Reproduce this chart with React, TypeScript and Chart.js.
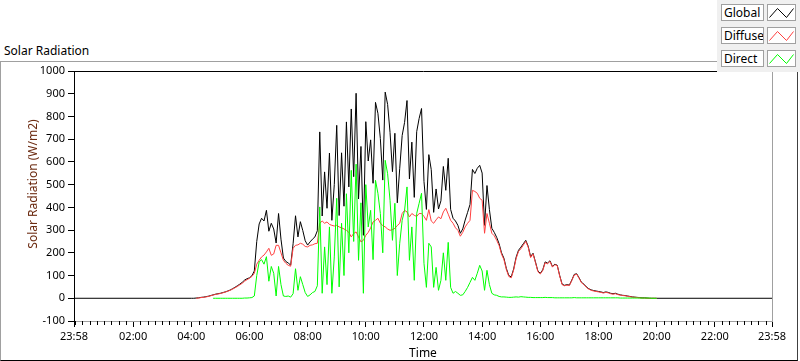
import React, { useEffect, useRef } from "react";
import { Chart, registerables } from "chart.js";

Chart.register(...registerables);

// Sampling grid: 5-minute samples 04:00..20:00 plus the day ends (23:58 previous day / 23:58)
const gridTimes: number[] = Array.from({ length: 193 }, (_, i) => 240 + 5 * i);
const times: number[] = [-2, ...gridTimes, 1438];

const globalVals: (number | null)[] = [
  0,
  0, 0, 1, 2, 4, 5, 7, 9, 12, 15, 18, 20,
  22, 25, 28, 32, 36, 42, 48, 55, 62, 70, 80, 86,
  90, 99, 120, 250, 327, 352, 340, 387, 295, 330, 305, 243,
  373, 260, 177, 162, 155, 146, 240, 363, 270, 337, 298, 253,
  234, 248, 260, 270, 297, 732, 362, 556, 396, 639, 343, 500,
  761, 364, 640, 405, 776, 490, 833, 535, 902, 437, 668, 277,
  777, 604, 697, 506, 862, 814, 703, 520, 907, 853, 730, 557,
  726, 420, 572, 716, 774, 870, 525, 687, 444, 733, 791, 835,
  514, 391, 632, 566, 378, 481, 393, 429, 580, 475, 616, 391,
  352, 340, 321, 286, 305, 344, 378, 413, 567, 549, 572, 585,
  551, 321, 496, 390, 308, 290, 268, 240, 200, 176, 131, 100,
  94, 129, 180, 211, 225, 240, 255, 229, 183, 198, 160, 120,
  110, 125, 160, 155, 165, 140, 150, 145, 100, 62, 57, 60,
  58, 80, 105, 108, 90, 70, 62, 50, 42, 37, 34, 32,
  30, 28, 25, 28, 26, 22, 20, 22, 18, 15, 13, 12,
  10, 8, 6, 5, 4, 3, 2, 2, 1, 0, 0, 0,
  0,
  0,
];

const diffuseVals: (number | null)[] = [
  null,
  null, null, 0, 1, 3, 4, 6, 8, 11, 14, 17, 19,
  21, 24, 27, 31, 35, 40, 46, 52, 59, 66, 75, 82,
  88, 96, 110, 150, 167, 182, 190, 204, 220, 189, 195, 233,
  233, 200, 167, 154, 145, 141, 220, 233, 235, 242, 238, 228,
  226, 233, 235, 240, 242, 330, 340, 330, 336, 325, 321, 318,
  321, 314, 310, 305, 299, 290, 270, 285, 292, 270, 248, 255,
  277, 290, 310, 336, 343, 352, 330, 320, 314, 305, 299, 302,
  308, 320, 330, 373, 387, 380, 358, 373, 365, 360, 373, 373,
  360, 343, 390, 340, 330, 345, 358, 350, 380, 396, 370, 343,
  330, 310, 299, 273, 290, 314, 330, 343, 475, 470, 462, 440,
  431, 286, 373, 330, 286, 275, 255, 232, 194, 170, 126, 96,
  90, 124, 174, 206, 218, 234, 250, 225, 179, 195, 157, 117,
  107, 122, 156, 152, 162, 137, 148, 143, 98, 60, 55, 58,
  56, 78, 102, 106, 88, 68, 60, 48, 40, 35, 32, 30,
  28, 26, 23, 26, 24, 20, 18, 20, 16, 14, 12, 11,
  9, 7, 5, 4, 3, 2, 1, 1, 0, 0, 0, 0,
  0,
  null,
];

const directVals: (number | null)[] = [
  null,
  null, null, null, null, null, null, null, null, null, 0, 0, 0,
  0, 0, 0, 0, 0, 0, 0, 0, 0, 0, 1, 1,
  2, 3, 10, 100, 160, 170, 150, 183, 75, 140, 110, 10,
  140, 60, 10, 8, 10, 5, 20, 130, 35, 95, 60, 25,
  8, 15, 25, 30, 55, 402, 22, 226, 60, 314, 22, 182,
  440, 50, 330, 100, 460, 200, 563, 250, 590, 167, 420, 22,
  500, 314, 387, 170, 519, 462, 373, 200, 607, 548, 431, 255,
  418, 100, 242, 343, 387, 490, 167, 314, 79, 373, 418, 462,
  154, 48, 242, 226, 48, 136, 35, 79, 200, 79, 246, 48,
  22, 30, 22, 13, 15, 30, 48, 70, 92, 79, 110, 145,
  120, 35, 123, 60, 22, 15, 13, 8, 6, 6, 5, 4,
  4, 5, 6, 5, 7, 6, 5, 4, 4, 3, 3, 3,
  3, 3, 4, 3, 3, 3, 2, 2, 2, 2, 2, 2,
  2, 2, 3, 2, 2, 2, 2, 2, 2, 2, 2, 2,
  2, 2, 2, 2, 2, 2, 2, 2, 2, 1, 1, 1,
  1, 1, 1, 1, 1, 1, 1, 1, 1, 1, 0, 0,
  0,
  null,
];

const seriesNames = ["Global", "Diffuse", "Direct"];
const seriesColors = ["#000000", "#ff4040", "#00ff00"];
const majorTicks = [-2, 120, 240, 360, 480, 600, 720, 840, 960, 1080, 1200, 1320, 1438];
const minorTicks: number[] = Array.from({ length: 96 }, (_, i) => i * 15);

const FONT = "'Noto Sans', 'Open Sans', sans-serif";

function fmtClock(m: number): string {
  const t = ((Math.round(m) % 1440) + 1440) % 1440;
  const h = Math.floor(t / 60);
  const mm = t % 60;
  return String(h).padStart(2, "0") + ":" + String(mm).padStart(2, "0");
}

const framePlugin = {
  id: "framePlugin",
  afterDraw(chart: any) {
    const { ctx, chartArea } = chart;
    const xs = chart.scales.x;
    ctx.save();
    ctx.lineWidth = 1;
    ctx.strokeStyle = "#000";
    const b = Math.round(chartArea.bottom);
    for (const m of minorTicks) {
      if (majorTicks.includes(m)) continue;
      const px = Math.round(xs.getPixelForValue(m)) + 0.5;
      ctx.beginPath();
      ctx.moveTo(px, b);
      ctx.lineTo(px, b + 4);
      ctx.stroke();
    }
    const t = Math.round(chartArea.top) + 0.5;
    ctx.beginPath();
    ctx.moveTo(Math.round(chartArea.left), t);
    ctx.lineTo(Math.round(chartArea.right) + 1, t);
    ctx.stroke();
    ctx.strokeStyle = "#a0a0a0";
    const r = Math.round(chartArea.right) + 0.5;
    ctx.beginPath();
    ctx.moveTo(r, t + 0.5);
    ctx.lineTo(r, Math.round(chartArea.bottom) + 1);
    ctx.stroke();
    ctx.restore();
  },
};

export default function App() {
  const ref = useRef<HTMLCanvasElement>(null);
  useEffect(() => {
    if (!ref.current) return;
    const mk = (vals: (number | null)[]) => times.map((t, i) => ({ x: t, y: vals[i] }));
    const chart = new Chart(ref.current, {
      type: "line",
      data: {
        datasets: [
          { label: seriesNames[0], data: mk(globalVals), borderColor: seriesColors[0], order: 3 },
          { label: seriesNames[1], data: mk(diffuseVals), borderColor: seriesColors[1], order: 2 },
          { label: seriesNames[2], data: mk(directVals), borderColor: seriesColors[2], order: 1 },
        ].map((d) => ({ ...d, borderWidth: 1, pointRadius: 0, tension: 0, fill: false, spanGaps: false })) as any,
      },
      options: {
        animation: false,
        responsive: false,
        devicePixelRatio: 1,
        layout: { padding: { left: 0, top: 71, right: 28, bottom: 0 } },
        plugins: { legend: { display: false }, tooltip: { enabled: false }, title: { display: false } },
        scales: {
          x: {
            type: "linear",
            min: -2,
            max: 1438,
            afterBuildTicks: (s: any) => {
              s.ticks = majorTicks.map((v) => ({ value: v }));
            },
            afterFit: (s: any) => {
              s.height = 40;
            },
            ticks: {
              autoSkip: false,
              maxRotation: 0,
              minRotation: 0,
              padding: 3,
              color: "#000",
              font: { family: FONT, size: 11 },
              callback: (v: any) => fmtClock(Number(v)),
            },
            grid: { display: true, drawOnChartArea: false, drawTicks: true, tickLength: 6, color: "#000", lineWidth: 1 },
            border: { display: true, color: "#a0a0a0", width: 1 },
            title: { display: true, text: "Time", color: "#000", font: { family: FONT, size: 12 }, padding: { top: 0, bottom: 0 } },
          },
          y: {
            type: "linear",
            min: -100,
            max: 1000,
            afterFit: (s: any) => {
              s.width = 74;
            },
            ticks: {
              stepSize: 100,
              padding: 3,
              color: "#000",
              font: { family: FONT, size: 11 },
              callback: (v: any) => String(v),
            },
            grid: { display: true, drawOnChartArea: false, drawTicks: true, tickLength: 6, color: "#000", lineWidth: 1 },
            border: { display: true, color: "#000", width: 1 },
          },
        },
      } as any,
      plugins: [framePlugin],
    });
    return () => chart.destroy();
  }, []);

  return (
    <div style={{ position: "absolute", left: 0, top: 0, width: 800, height: 361, background: "#fff", overflow: "hidden", fontFamily: FONT }}>
      <div
        style={{
          position: "absolute", left: 0, top: 61, width: 798, height: 300, boxSizing: "border-box",
          borderTop: "1px solid #a0a0a0", borderLeft: "1px solid #a0a0a0", borderRight: "1px solid #404040", borderBottom: "1px solid #000",
        }}
      />
      <div style={{ position: "absolute", left: 4, top: 43, fontSize: 12, lineHeight: "16px", color: "#000", whiteSpace: "nowrap" }}>
        Solar Radiation
      </div>
      <canvas ref={ref} width={800} height={361} style={{ position: "absolute", left: 0, top: 0, width: 800, height: 361 }} />
      <div
        style={{
          position: "absolute", left: -67, top: 176, width: 200, height: 16, lineHeight: "16px", fontSize: 12,
          textAlign: "center", color: "#6b2a10", transform: "rotate(-90deg)", whiteSpace: "nowrap",
        }}
      >
        Solar Radiation (W/m2)
      </div>
      <div style={{ position: "absolute", left: 717, top: 0, width: 83, height: 72, background: "#f0f0f0" }}>
        {seriesNames.map((name, i) => (
          <React.Fragment key={name}>
            <div
              style={{
                position: "absolute", left: 4, top: 4 + i * 23, width: 43, height: 17, boxSizing: "border-box",
                border: "1px solid #a0a0a0", background: "#fff", fontSize: 12, lineHeight: "15px", paddingLeft: 2,
                color: "#000", whiteSpace: "nowrap", overflow: "hidden",
              }}
            >
              {name}
            </div>
            <div
              style={{
                position: "absolute", left: 50, top: 4 + i * 23, width: 29, height: 17, boxSizing: "border-box",
                border: "1px solid #a0a0a0", background: "#fff",
              }}
            >
              <svg width={27} height={15} style={{ position: "absolute", left: 0, top: 0 }}>
                <polyline points="1.5,12.5 9.5,3.5 18.5,12.5 25.5,3.5" fill="none" stroke={seriesColors[i]} strokeWidth={1} />
              </svg>
            </div>
          </React.Fragment>
        ))}
      </div>
    </div>
  );
}
